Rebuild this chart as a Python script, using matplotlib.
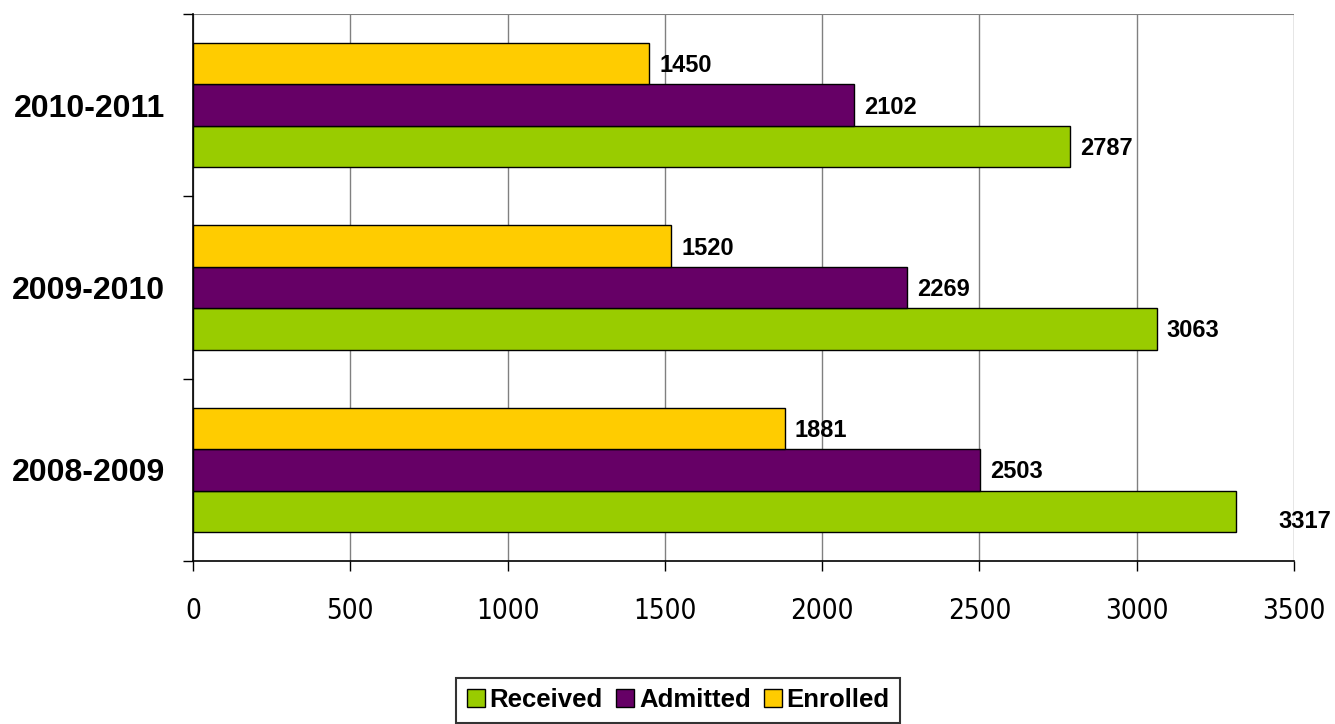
import matplotlib
matplotlib.use("Agg")
import matplotlib.pyplot as plt
import numpy as np
from matplotlib.ticker import FixedLocator

years = ["2008-2009", "2009-2010", "2010-2011"]
received = [3317, 3063, 2787]
admitted = [2503, 2269, 2102]
enrolled = [1881, 1520, 1450]
xticks = [0, 500, 1000, 1500, 2000, 2500, 3000, 3500]

series = [("Received", received, "#99CC00"),
          ("Admitted", admitted, "#660066"),
          ("Enrolled", enrolled, "#FFCC00")]

fig = plt.figure(figsize=(13.35, 7.24), dpi=100)
ax = fig.add_axes([0.1446, 0.2251, 0.8247, 0.7556])

y = np.arange(len(years))
h = 0.227
bars = []
for i, (name, vals, col) in enumerate(series):
    b = ax.barh(y + (i - 1) * h, vals, height=h, color=col, edgecolor="black",
                linewidth=1.0, label=name, zorder=3)
    bars.append(b)
    for j, (rect, v) in enumerate(zip(b, vals)):
        dx, dy = 10, -2
        if v == max(received):
            dx, dy = 42, -10
        ax.annotate(str(v), (rect.get_width(), rect.get_y() + rect.get_height() / 2),
                    xytext=(dx, dy), textcoords="offset pixels", ha="left", va="center",
                    fontsize=17, fontweight="bold", family="Liberation Sans", zorder=4)

ax.set_xlim(0, 3500)
ax.set_ylim(-0.5, 2.5)
ax.set_xticks(xticks)
ax.set_xticklabels([str(t) for t in xticks], family="DejaVu Sans",
                   fontstretch="condensed", fontsize=20)
ax.set_yticks(y)
ax.set_yticklabels(years, fontsize=23, fontweight="bold", family="Liberation Sans")
ax.yaxis.set_minor_locator(FixedLocator([-0.5, 0.5, 1.5, 2.5]))
ax.tick_params(axis="y", which="major", length=0, pad=20)
ax.tick_params(axis="y", which="minor", length=7, width=1, direction="out")
ax.tick_params(axis="x", which="major", length=7, width=1, direction="out", pad=19)

ax.grid(axis="x", color="#808080", linewidth=1, zorder=0)
ax.axhline(2.5, color="#808080", linewidth=1.5, zorder=1)
for s in ["top", "right"]:
    ax.spines[s].set_visible(False)
for s in ["left", "bottom"]:
    ax.spines[s].set_linewidth(1.2)
    ax.spines[s].set_zorder(5)

leg = fig.legend(handles=bars, labels=[s[0] for s in series], loc="lower center",
                 bbox_to_anchor=(0.508, 0.0), ncol=3, frameon=True, fancybox=False,
                 prop={"family": "Liberation Sans", "weight": "bold", "size": 18.5},
                 handlelength=0.7, handleheight=0.7, handletextpad=0.2,
                 columnspacing=0.5, borderpad=0.4, borderaxespad=0.05)
leg.get_frame().set_edgecolor("black")
leg.get_frame().set_linewidth(1.5)

fig.savefig("out.png", dpi=100)
